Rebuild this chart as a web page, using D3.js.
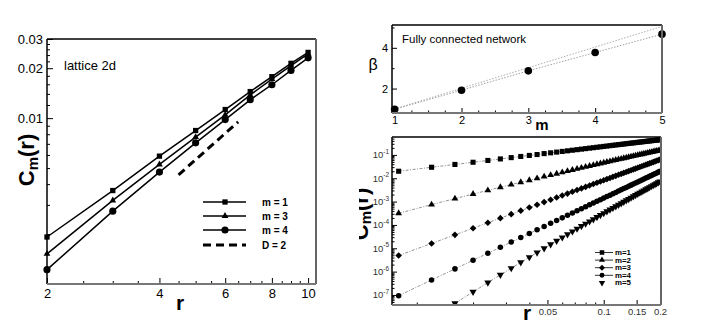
<!DOCTYPE html>
<html>
<head>
<meta charset="utf-8">
<script src="https://cdn.jsdelivr.net/npm/d3@7"></script>
<style>
  body { margin: 0; background: #fff; }
  svg { display: block; font-family: "Liberation Sans", Arial, Helvetica, sans-serif; }
</style>
</head>
<body>
<svg id="chart" width="706" height="324"></svg>
<script>
// ---- data: lattice 2d (left panel) ----
const latticeR = [2, 3, 4, 5, 6, 7, 8, 9, 10];
const latticeM1 = [0.00192, 0.00366, 0.0059, 0.00842, 0.01127, 0.01446, 0.01778, 0.0214, 0.0249];
const latticeM3 = [0.00152, 0.00319, 0.00526, 0.00768, 0.01047, 0.0138, 0.0172, 0.02074, 0.0244];
const latticeM4 = [0.00122, 0.00275, 0.00473, 0.0071, 0.0098, 0.0129, 0.0159, 0.0194, 0.0231];
const slopeR = [4.5, 6.5];
const slopeC = [0.00455, 0.0095];
const latticeXTicks = [2, 4, 6, 8, 10];
const latticeYTicks = [0.01, 0.02, 0.03];

// ---- data: fully connected network, beta vs m (top right) ----
const betaM = [1, 2, 3, 4, 5];
const betaVals = [0.98, 1.92, 2.87, 3.77, 4.67];
const refM = [1, 5];
const refBeta = [1, 5.05];

// ---- data: C_m(r) on fully connected network (bottom right) ----
const fcR = [0.008, 0.012, 0.016, 0.02, 0.024, 0.028, 0.032, 0.036, 0.04, 0.044, 0.048, 0.052, 0.056, 0.06, 0.064, 0.068, 0.072, 0.076, 0.08, 0.084, 0.088, 0.092, 0.096, 0.1, 0.104, 0.108, 0.112, 0.116, 0.12, 0.124, 0.128, 0.132, 0.136, 0.14, 0.144, 0.148, 0.152, 0.156, 0.16, 0.164, 0.168, 0.172, 0.176, 0.18, 0.184, 0.188, 0.192, 0.196, 0.2];
const fcM1 = [0.0200, 0.0296, 0.0391, 0.0485, 0.0579, 0.0673, 0.0766, 0.0858, 0.0951, 0.104, 0.114, 0.123, 0.132, 0.141, 0.150, 0.159, 0.168, 0.177, 0.186, 0.195, 0.204, 0.213, 0.222, 0.231, 0.240, 0.249, 0.258, 0.267, 0.276, 0.284, 0.293, 0.302, 0.311, 0.320, 0.328, 0.337, 0.346, 0.354, 0.363, 0.372, 0.380, 0.389, 0.398, 0.406, 0.415, 0.423, 0.432, 0.441, 0.449];
const fcM2 = [3.16e-4, 7.41e-4, 1.34e-3, 2.11e-3, 3.04e-3, 4.13e-3, 5.37e-3, 6.75e-3, 8.28e-3, 9.95e-3, 1.175e-2, 1.37e-2, 1.57e-2, 1.79e-2, 2.03e-2, 2.27e-2, 2.52e-2, 2.79e-2, 3.07e-2, 3.36e-2, 3.66e-2, 3.97e-2, 4.29e-2, 4.62e-2, 4.96e-2, 5.31e-2, 5.68e-2, 6.05e-2, 6.43e-2, 6.82e-2, 7.22e-2, 7.62e-2, 8.04e-2, 8.47e-2, 8.91e-2, 9.35e-2, 9.80e-2, 0.1026, 0.1073, 0.112, 0.117, 0.122, 0.127, 0.132, 0.137, 0.143, 0.148, 0.153, 0.158];
const fcM3 = [4.90e-6, 1.61e-5, 3.76e-5, 7.24e-5, 1.24e-4, 1.95e-4, 2.89e-4, 4.08e-4, 5.56e-4, 7.36e-4, 9.51e-4, 1.20e-3, 1.50e-3, 1.83e-3, 2.21e-3, 2.64e-3, 3.13e-3, 3.67e-3, 4.27e-3, 4.92e-3, 5.65e-3, 6.43e-3, 7.29e-3, 8.22e-3, 9.22e-3, 1.03e-2, 1.15e-2, 1.27e-2, 1.41e-2, 1.55e-2, 1.70e-2, 1.86e-2, 2.03e-2, 2.21e-2, 2.40e-2, 2.60e-2, 2.82e-2, 3.04e-2, 3.27e-2, 3.52e-2, 3.78e-2, 4.05e-2, 4.33e-2, 4.63e-2, 4.94e-2, 5.26e-2, 5.60e-2, 5.95e-2, 6.31e-2];
const fcM4 = [9.33e-8, 4.38e-7, 1.31e-6, 3.06e-6, 6.14e-6, 1.10e-5, 1.84e-5, 2.88e-5, 4.30e-5, 6.18e-5, 8.61e-5, 1.17e-4, 1.55e-4, 2.01e-4, 2.58e-4, 3.24e-4, 4.03e-4, 4.95e-4, 6.03e-4, 7.26e-4, 8.67e-4, 1.03e-3, 1.21e-3, 1.41e-3, 1.64e-3, 1.89e-3, 2.17e-3, 2.48e-3, 2.82e-3, 3.20e-3, 3.61e-3, 4.06e-3, 4.55e-3, 5.08e-3, 5.66e-3, 6.28e-3, 6.95e-3, 7.67e-3, 8.45e-3, 9.29e-3, 1.02e-2, 1.11e-2, 1.21e-2, 1.32e-2, 1.44e-2, 1.56e-2, 1.69e-2, 1.83e-2, 1.98e-2];
const fcM5 = [null, null, 4.37e-8, 1.35e-7, 3.37e-7, 7.24e-7, 1.40e-6, 2.49e-6, 4.15e-6, 6.59e-6, 1.00e-5, 1.47e-5, 2.09e-5, 2.90e-5, 3.94e-5, 5.25e-5, 6.87e-5, 8.85e-5, 1.13e-4, 1.41e-4, 1.75e-4, 2.16e-4, 2.63e-4, 3.17e-4, 3.80e-4, 4.52e-4, 5.34e-4, 6.27e-4, 7.31e-4, 8.49e-4, 9.82e-4, 1.13e-3, 1.29e-3, 1.47e-3, 1.67e-3, 1.90e-3, 2.14e-3, 2.40e-3, 2.69e-3, 3.01e-3, 3.35e-3, 3.72e-3, 4.12e-3, 4.56e-3, 5.02e-3, 5.53e-3, 6.07e-3, 6.65e-3, 7.28e-3];
const fcXTicks = [0.05, 0.1, 0.15, 0.2];
const fcXTickLabels = ["0.05", "0.1", "0.15", "0.2"];
const fcYExp = [-1, -2, -3, -4, -5, -6, -7];

const svg = d3.select("#chart");
svg.append("rect").attr("width", 706).attr("height", 324).attr("fill", "#fff");
const defs = svg.append("defs");

// draws the box round a panel: dark top/left, grey right/bottom
function drawFrame(x0, x1, y0, y1) {
    const g = svg.append("g").attr("fill", "none");
    g.append("line").attr("x1", x0).attr("x2", x1).attr("y1", y0).attr("y2", y0).attr("stroke", "#000").attr("stroke-width", 1.5);
    g.append("line").attr("x1", x0).attr("x2", x0).attr("y1", y0).attr("y2", y1).attr("stroke", "#000").attr("stroke-width", 1.5);
    g.append("line").attr("x1", x1).attr("x2", x1).attr("y1", y0).attr("y2", y1).attr("stroke", "#666").attr("stroke-width", 2);
    g.append("line").attr("x1", x0).attr("x2", x1).attr("y1", y1).attr("y2", y1).attr("stroke", "#777").attr("stroke-width", 2);
}

function styleAxis(g, size) {
    g.select(".domain").remove();
    g.attr("font-family", null).attr("font-size", size);
    g.selectAll("line").attr("stroke-width", 1);
}

function logMinors(lo, hi) {
    const out = [];
    for (let e = Math.floor(Math.log10(lo)); e <= Math.ceil(Math.log10(hi)); e++) {
        for (let k = 2; k <= 9; k++) {
            const v = k * Math.pow(10, e);
            if (v > lo && v < hi) out.push(v);
        }
    }
    return out;
}

const sym = (type, size) => d3.symbol().type(type).size(size)();

// =================== left panel: lattice 2d ===================
const xL = d3.scaleLog().domain([2, 10.5]).range([47, 316]);
const yL = d3.scaleLog().domain([0.001, 0.03]).range([284, 39]);

const xLMinor = [2.5, 3, 3.5, 4.5, 5, 5.5, 6.5, 7, 7.5, 8.5, 9, 9.5];
const yLMinor = [0.002, 0.003, 0.004, 0.005, 0.006, 0.007, 0.008, 0.009, 0.012, 0.014, 0.016, 0.018, 0.022, 0.024, 0.026, 0.028];

svg.append("g").attr("transform", "translate(0,284)")
    .call(d3.axisBottom(xL).tickValues(xLMinor).tickSize(-3).tickFormat(""))
    .call(g => styleAxis(g, 13));
svg.append("g").attr("transform", "translate(0,284)")
    .call(d3.axisBottom(xL).tickValues(latticeXTicks).tickSize(-6).tickPadding(5).tickFormat(d3.format("d")))
    .call(g => styleAxis(g, 13));
svg.append("g").attr("transform", "translate(47,0)")
    .call(d3.axisLeft(yL).tickValues(yLMinor).tickSize(-3).tickFormat(""))
    .call(g => styleAxis(g, 13));
svg.append("g").attr("transform", "translate(47,0)")
    .call(d3.axisLeft(yL).tickValues(latticeYTicks).tickSize(-6).tickPadding(4).tickFormat(d3.format(".2f")))
    .call(g => styleAxis(g, 13));

const lineL = d3.line().x(d => xL(d[0])).y(d => yL(d[1]));
const latticeSeries = [
    { vals: latticeM1, type: d3.symbolSquare, size: 28, label: "m = 1" },
    { vals: latticeM3, type: d3.symbolTriangle, size: 20, label: "m = 3" },
    { vals: latticeM4, type: d3.symbolCircle, size: 40, label: "m = 4" }
];
latticeSeries.forEach(s => {
    const pts = latticeR.map((r, i) => [r, s.vals[i]]);
    svg.append("path").attr("d", lineL(pts)).attr("fill", "none").attr("stroke", "#000").attr("stroke-width", 1.5);
    svg.append("g").selectAll("path").data(pts).join("path")
        .attr("transform", d => `translate(${xL(d[0])},${yL(d[1])})`)
        .attr("d", sym(s.type, s.size)).attr("fill", "#000");
});
svg.append("path").attr("d", lineL(slopeR.map((r, i) => [r, slopeC[i]])))
    .attr("fill", "none").attr("stroke", "#000").attr("stroke-width", 3).attr("stroke-dasharray", "8,5");

drawFrame(47, 316, 39, 284);

svg.append("text").attr("x", 64).attr("y", 70).attr("font-size", 13).text("lattice 2d");

// legend
const legL = svg.append("g");
latticeSeries.concat([{ label: "D = 2", dashed: true }]).forEach((s, i) => {
    const y = [202, 216, 230, 245][i];
    legL.append("line").attr("x1", 203).attr("x2", 246).attr("y1", y).attr("y2", y)
        .attr("stroke", "#000").attr("stroke-width", s.dashed ? 3 : 1.5)
        .attr("stroke-dasharray", s.dashed ? "8,5" : null);
    if (!s.dashed) legL.append("path").attr("transform", `translate(225,${y})`).attr("d", sym(s.type, s.size)).attr("fill", "#000");
    legL.append("text").attr("x", 262).attr("y", y + 4).attr("font-size", 10).attr("font-weight", "bold").text(s.label);
});

// axis titles
svg.append("text").attr("x", 180).attr("y", 310).attr("text-anchor", "middle")
    .attr("font-size", 21).attr("font-weight", "bold").text("r");
const cmL = svg.append("text").attr("transform", "translate(34,160) rotate(-90)").attr("text-anchor", "middle")
    .attr("font-size", 22).attr("font-weight", "bold");
cmL.append("tspan").text("C");
cmL.append("tspan").attr("font-size", 15).attr("dy", 4).text("m");
cmL.append("tspan").attr("dy", -4).text("(r)");

// =================== top right: beta vs m ===================
const xT = d3.scaleLinear().domain([0.96, 5.0]).range([392, 662]);
const yT = d3.scaleLinear().domain([0.8, 5.12]).range([113, 25]);

svg.append("g").attr("transform", "translate(0,113)")
    .call(d3.axisBottom(xT).tickValues(d3.range(1.25, 5, 0.25).filter(v => v % 1 !== 0)).tickSize(-2.5).tickFormat(""))
    .call(g => styleAxis(g, 11));
svg.append("g").attr("transform", "translate(0,113)")
    .call(d3.axisBottom(xT).tickValues(betaM).tickSize(-5).tickPadding(3).tickFormat(d3.format("d")))
    .call(g => styleAxis(g, 11));
svg.append("g").attr("transform", "translate(392,0)")
    .call(d3.axisLeft(yT).tickValues([1, 3, 5]).tickSize(-2.5).tickFormat(""))
    .call(g => styleAxis(g, 11));
svg.append("g").attr("transform", "translate(392,0)")
    .call(d3.axisLeft(yT).tickValues([2, 4]).tickSize(-5).tickPadding(4).tickFormat(d3.format("d")))
    .call(g => styleAxis(g, 11));

const lineT = d3.line().x(d => xT(d[0])).y(d => yT(d[1]));
svg.append("path").attr("d", lineT(refM.map((m, i) => [m, refBeta[i]])))
    .attr("fill", "none").attr("stroke", "#999").attr("stroke-width", 0.8).attr("stroke-dasharray", "1.5,1.5");
svg.append("path").attr("d", lineT(betaM.map((m, i) => [m, betaVals[i]])))
    .attr("fill", "none").attr("stroke", "#888").attr("stroke-width", 0.8).attr("stroke-dasharray", "1.5,1.5");
svg.append("g").selectAll("circle").data(betaM.map((m, i) => [m, betaVals[i]])).join("circle")
    .attr("cx", d => xT(d[0])).attr("cy", d => yT(d[1])).attr("r", 3.8).attr("fill", "#000");

drawFrame(392, 662, 25, 113);
svg.append("text").attr("x", 402).attr("y", 43).attr("font-size", 11.5).text("Fully connected network");
svg.append("text").attr("x", 373).attr("y", 70).attr("text-anchor", "middle").attr("font-size", 16).text("β");
svg.append("text").attr("x", 542).attr("y", 130).attr("text-anchor", "middle").attr("font-size", 15).attr("font-weight", "bold").text("m");

// =================== bottom right: C_m(r) fully connected ===================
const xB = d3.scaleLog().domain([0.00737, 0.2025]).range([392, 661]);
const yB = d3.scaleLog().domain([3.715e-8, 0.586]).range([305, 137]);

defs.append("clipPath").attr("id", "clipB")
    .append("rect").attr("x", 392).attr("y", 137).attr("width", 269).attr("height", 168);

svg.append("g").attr("transform", "translate(0,305)")
    .call(d3.axisBottom(xB).tickValues([0.01, 0.02, 0.03, 0.04, 0.06, 0.07, 0.08, 0.09]).tickSize(-2.5).tickFormat(""))
    .call(g => styleAxis(g, 9));
svg.append("g").attr("transform", "translate(0,305)")
    .call(d3.axisBottom(xB).tickValues(fcXTicks).tickSize(-5).tickPadding(3).tickFormat((d, i) => fcXTickLabels[i]))
    .call(g => styleAxis(g, 9.5))
    .call(g => g.selectAll("text").attr("fill", "#333"));
svg.append("g").attr("transform", "translate(392,0)")
    .call(d3.axisLeft(yB).tickValues(logMinors(3.715e-8, 0.586)).tickSize(-2.5).tickFormat(""))
    .call(g => styleAxis(g, 9));
svg.append("g").attr("transform", "translate(392,0)")
    .call(d3.axisLeft(yB).tickValues(fcYExp.map(e => Math.pow(10, e))).tickSize(-5).tickFormat(""))
    .call(g => styleAxis(g, 9));
fcYExp.forEach(e => {
    const t = svg.append("text").attr("x", 389).attr("y", yB(Math.pow(10, e)) + 3.5)
        .attr("text-anchor", "end").attr("font-size", 9.5).attr("fill", "#333");
    t.append("tspan").text("10");
    t.append("tspan").attr("dy", -4.5).attr("font-size", 6.5).text(String(e));
});

const fcSeries = [
    { vals: fcM1, type: d3.symbolSquare, size: 26, rot: 0, label: "m=1" },
    { vals: fcM2, type: d3.symbolTriangle, size: 20, rot: 0, label: "m=2" },
    { vals: fcM3, type: d3.symbolSquare, size: 22, rot: 45, label: "m=3" },
    { vals: fcM4, type: d3.symbolCircle, size: 24, rot: 0, label: "m=4" },
    { vals: fcM5, type: d3.symbolTriangle, size: 22, rot: 180, label: "m=5" }
];
const lineB = d3.line().defined(d => d[1] != null).x(d => xB(d[0])).y(d => yB(d[1]));
const plotB = svg.append("g").attr("clip-path", "url(#clipB)");
fcSeries.forEach(s => {
    const pts = fcR.map((r, i) => [r, s.vals[i]]);
    plotB.append("path").attr("d", lineB(pts)).attr("fill", "none")
        .attr("stroke", "#777").attr("stroke-width", 0.8).attr("stroke-dasharray", "3,1.5,1,1.5");
    plotB.append("g").selectAll("path").data(pts.filter(d => d[1] != null)).join("path")
        .attr("transform", d => `translate(${xB(d[0])},${yB(d[1])}) rotate(${s.rot})`)
        .attr("d", sym(s.type, s.size)).attr("fill", "#000");
});

drawFrame(392, 661, 137, 305);

// legend
const legB = svg.append("g");
fcSeries.forEach((s, i) => {
    const y = 252.5 + i * 7.6;
    if (i < 4) legB.append("line").attr("x1", 595).attr("x2", 613).attr("y1", y).attr("y2", y).attr("stroke", "#000").attr("stroke-width", 0.8);
    legB.append("path").attr("transform", `translate(602,${y}) rotate(${s.rot})`)
        .attr("d", sym(s.type, s.size * 0.8)).attr("fill", "#000");
    legB.append("text").attr("x", 615).attr("y", y + 2.4).attr("font-size", 6.8).attr("font-weight", "bold")
        .attr("textLength", 16).attr("lengthAdjust", "spacingAndGlyphs").text(s.label);
});

svg.append("text").attr("x", 527).attr("y", 320).attr("text-anchor", "middle")
    .attr("font-size", 21).attr("font-weight", "bold").text("r");

// y title of the lower right panel, cut off on its left side as in the source figure
defs.append("clipPath").attr("id", "clipTitle")
    .append("rect").attr("x", 359).attr("y", 130).attr("width", 40).attr("height", 150);
const cmB = svg.append("g").attr("clip-path", "url(#clipTitle)")
    .append("text").attr("transform", "translate(368,214) rotate(-90)").attr("text-anchor", "middle")
    .attr("font-size", 22).attr("font-weight", "bold");
cmB.append("tspan").text("C");
cmB.append("tspan").attr("font-size", 15).attr("dy", 3).text("m");
cmB.append("tspan").attr("dy", -3).text("(r)");
</script>
</body>
</html>
